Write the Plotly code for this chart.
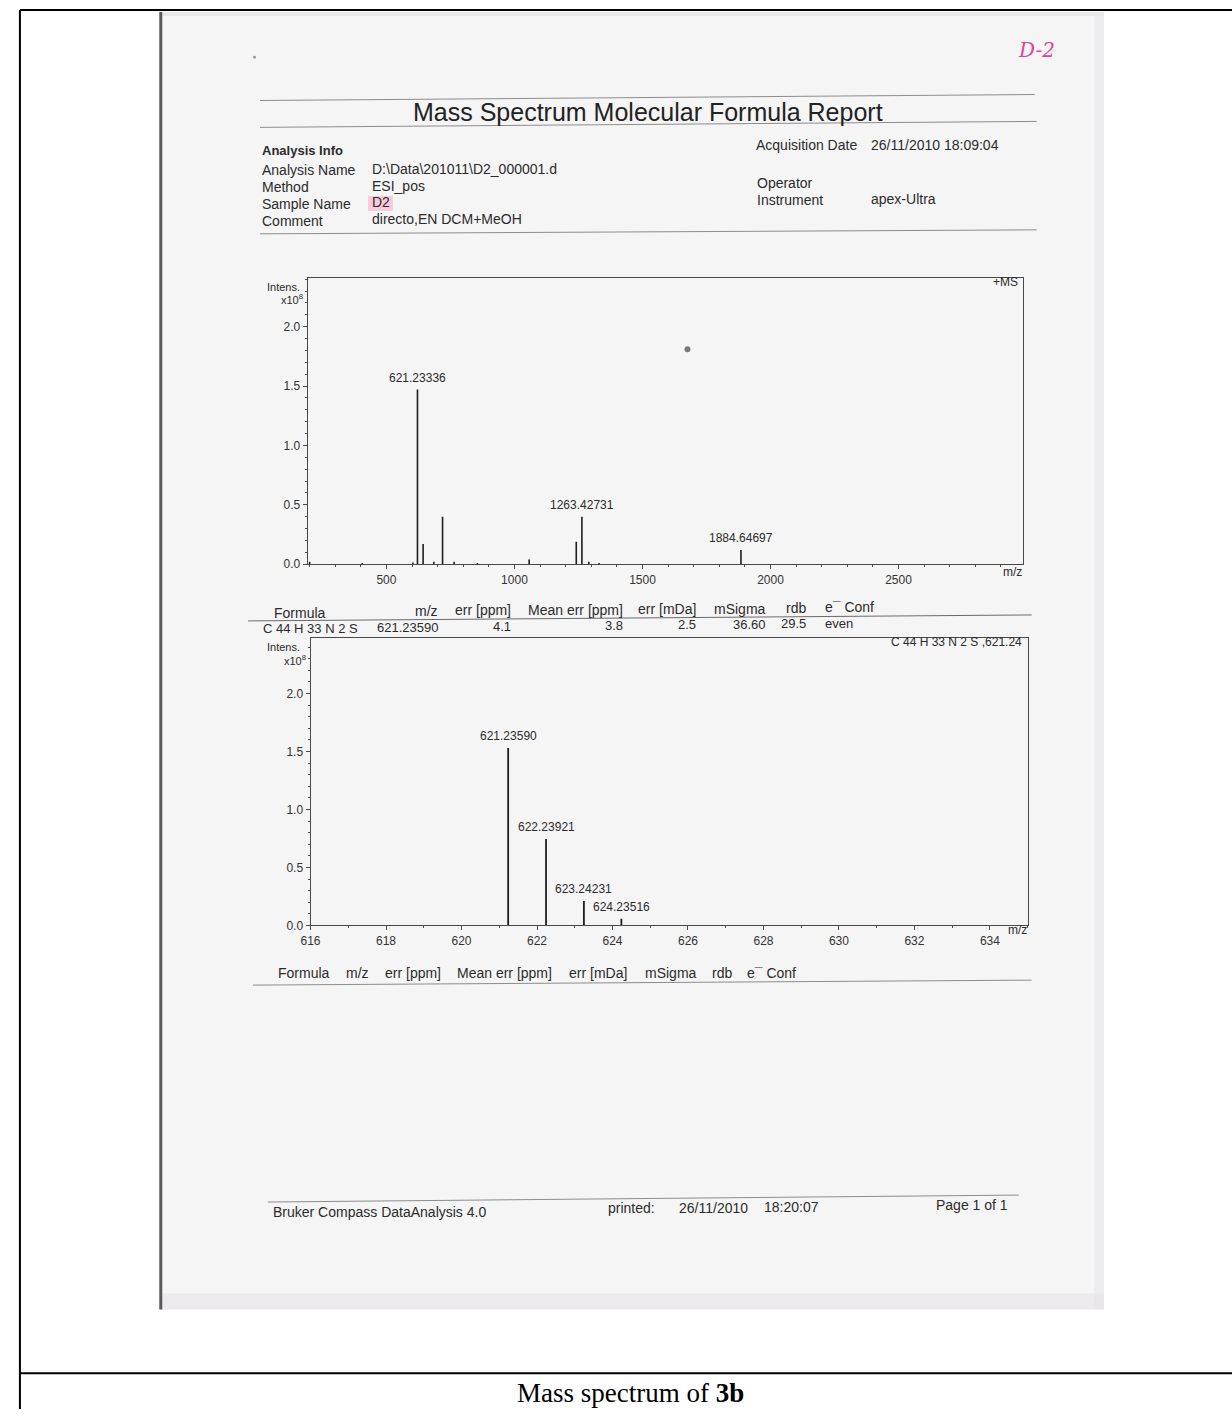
import plotly.graph_objects as go

W, H = 1232, 1416
SANS = "Liberation Sans, Arial, sans-serif"
SERIF = "Liberation Serif, Times New Roman, serif"
INK = "#2b2b2b"

# Survey spectrum (+MS); intensities in units of 1e8
survey_mz = [200.1, 405.3, 603.2, 621.23336, 643.2, 685.3, 719.2, 764.3,
             855.2, 1057.4, 1241.4, 1263.42731, 1290.5, 1330.4, 1884.64697]
survey_int = [0.02, 0.01, 0.015, 1.47, 0.17, 0.02, 0.40, 0.02,
              0.01, 0.04, 0.19, 0.40, 0.02, 0.01, 0.12]
survey_label_mz = [621.23336, 1263.42731, 1884.64697]
survey_label_int = [1.47, 0.40, 0.12]
survey_label_txt = ["621.23336", "1263.42731", "1884.64697"]

# Simulated isotope pattern for C44H33N2S
iso_mz = [621.23590, 622.23921, 623.24231, 624.23516]
iso_int = [1.53, 0.745, 0.21, 0.058]
iso_label_txt = ["621.23590", "622.23921", "623.24231", "624.23516"]

# Formula result table
table_cols = ["Formula", "m/z", "err [ppm]", "Mean err [ppm]", "err [mDa]", "mSigma", "rdb", "e\u00af Conf"]
table_row = ["C 44 H 33 N 2 S", "621.23590", "4.1", "3.8", "2.5", "36.60", "29.5", "even"]


def px(x):
    return x / W


def py(y):
    return 1 - y / H


def sticks(xs, ys):
    xx, yy = [], []
    for a, b in zip(xs, ys):
        xx += [a, a, None]
        yy += [0, b, None]
    return xx, yy


fig = go.Figure()

sx, sy = sticks(survey_mz, survey_int)
fig.add_trace(go.Scatter(x=sx, y=sy, mode="lines", line=dict(color="#1e1e1e", width=1.6),
                         hoverinfo="skip", showlegend=False, xaxis="x", yaxis="y"))
ix, iy = sticks(iso_mz, iso_int)
fig.add_trace(go.Scatter(x=ix, y=iy, mode="lines", line=dict(color="#1e1e1e", width=1.8),
                         hoverinfo="skip", showlegend=False, xaxis="x2", yaxis="y2"))

axis_common = dict(showline=True, mirror=True, linecolor="#4a4a4a", linewidth=1,
                   showgrid=False, zeroline=False, ticks="outside", ticklen=4,
                   tickcolor="#4a4a4a", tickfont=dict(family=SANS, size=12, color="#333"))

layout_axes = dict(
    xaxis=dict(domain=[px(300), px(1021)], range=[192, 2985], anchor="y",
               tickvals=[500, 1000, 1500, 2000, 2500],
               minor=dict(dtick=100, tick0=0, ticklen=2, ticks="outside", tickcolor="#4a4a4a"),
               **axis_common),
    yaxis=dict(domain=[py(567), py(279)], range=[0, 2.413], anchor="x",
               tickvals=[0, 0.5, 1.0, 1.5, 2.0], ticktext=["0.0", "0.5", "1.0", "1.5", "2.0"],
               minor=dict(dtick=0.1, tick0=0, ticklen=2, ticks="outside", tickcolor="#4a4a4a"),
               **axis_common),
    xaxis2=dict(domain=[px(303), px(1026)], range=[616, 635], anchor="y2",
                tickvals=[616, 618, 620, 622, 624, 626, 628, 630, 632, 634],
                minor=dict(dtick=1, tick0=616, ticklen=2, ticks="outside", tickcolor="#4a4a4a"),
                **axis_common),
    yaxis2=dict(domain=[py(930), py(641)], range=[0, 2.48], anchor="x2",
                tickvals=[0, 0.5, 1.0, 1.5, 2.0], ticktext=["0.0", "0.5", "1.0", "1.5", "2.0"],
                minor=dict(dtick=0.1, tick0=0, ticklen=2, ticks="outside", tickcolor="#4a4a4a"),
                **axis_common),
)

shapes = []
# scanned report page
shapes.append(dict(type="rect", xref="paper", yref="paper", x0=px(151), x1=px(1103),
                   y0=py(1316), y1=py(12), fillcolor="#f5f5f5", line=dict(width=0), layer="below"))
shapes.append(dict(type="rect", xref="paper", yref="paper", x0=px(1093), x1=px(1103),
                   y0=py(1316), y1=py(12), fillcolor="#ededf0", line=dict(width=0), layer="below"))
shapes.append(dict(type="rect", xref="paper", yref="paper", x0=px(151), x1=px(1103),
                   y0=py(1316), y1=py(1300), fillcolor="rgba(232,222,230,0.55)", line=dict(width=0), layer="below"))
shapes.append(dict(type="rect", xref="paper", yref="paper", x0=px(151), x1=px(1103),
                   y0=py(16), y1=py(12), fillcolor="#e8e8ea", line=dict(width=0), layer="below"))
shapes.append(dict(type="line", xref="paper", yref="paper", x0=px(152), x1=px(152),
                   y0=py(1316), y1=py(12), line=dict(color="#5a5a5a", width=3), layer="below"))
# highlight on the sample name
shapes.append(dict(type="rect", xref="paper", yref="paper", x0=px(361), x1=px(386),
                   y0=py(212), y1=py(197), fillcolor="rgba(255,150,190,0.45)", line=dict(width=0), layer="below"))


def rule(x0, y0, x1, y1, color="#8c8c8c", w=1):
    shapes.append(dict(type="line", xref="paper", yref="paper", x0=px(x0), y0=py(y0),
                       x1=px(x1), y1=py(y1), line=dict(color=color, width=w)))


rule(252, 101, 1033, 95)
rule(252, 128, 1035, 122)
rule(252, 235, 1035, 231)
rule(240, 624, 1030, 618, color="#6a6a6a")
rule(245, 990, 1030, 985)
rule(260, 1208, 1017, 1201)
# document table frame
rule(10, 10, 1232, 10, color="#000", w=2)
rule(10, 10, 10, 1416, color="#000", w=2)
rule(10, 1380, 1232, 1380, color="#000", w=2)
# specks
shapes.append(dict(type="circle", xref="paper", yref="paper", x0=px(680), x1=px(686),
                   y0=py(354), y1=py(348), fillcolor="#7a7a72", line=dict(width=0)))
shapes.append(dict(type="circle", xref="paper", yref="paper", x0=px(245), x1=px(248),
                   y0=py(59), y1=py(56), fillcolor="#9a9a9a", line=dict(width=0)))

ann = []


def txt(x, y, s, size=14, anchor="left", color=INK, family=SANS):
    ann.append(dict(x=px(x), y=py(y), xref="paper", yref="paper", text=s, showarrow=False,
                    xanchor=anchor, yanchor="middle", font=dict(size=size, color=color, family=family)))


txt(1035, 50, "<i>D-2</i>", size=20, anchor="center", color="#e0439c", family="DejaVu Serif, serif")
txt(643, 113, "Mass Spectrum Molecular Formula Report", size=25, anchor="center", color="#222")
txt(252, 151, "<b>Analysis Info</b>", size=13)
for lab, val, yy in [("Analysis Name", "D:\\Data\\201011\\D2_000001.d", 171),
                     ("Method", "ESI_pos", 188),
                     ("Sample Name", "D2", 205),
                     ("Comment", "directo,EN DCM+MeOH", 222)]:
    txt(252, yy, lab, size=14)
    txt(363, yy - 1.5, val, size=14)
txt(750, 146, "Acquisition Date", size=14)
txt(866, 146, "26/11/2010 18:09:04", size=14)
txt(751, 184, "Operator", size=14)
txt(751, 201, "Instrument", size=14)
txt(866, 200, "apex-Ultra", size=14)

# survey spectrum decorations
txt(294, 288, "Intens.", size=11, anchor="right")
txt(297, 300, "x10<sup>8</sup>", size=11, anchor="right")
txt(1018, 283, "+MS", size=12, anchor="right")
txt(1011, 575, "m/z", size=12, anchor="center")

# formula table
col_right = [None, 434, 507, 620, 694, 764, 805, None]
col_left = [264, None, None, None, None, None, None, 820]
hdr_y = [616, 614, 613, 613, 612, 612, 611, 610]
row_y = [632, 631, 630, 629, 628, 628, 627, 627]
for i, (h, r) in enumerate(zip(table_cols, table_row)):
    if col_left[i] is not None:
        txt(col_left[i], hdr_y[i], h, size=14)
        txt(col_left[i] - (11 if i == 0 else 0), row_y[i], r, size=13)
    else:
        txt(col_right[i], hdr_y[i], h, size=14, anchor="right")
        txt(col_right[i], row_y[i], r, size=13, anchor="right")

# isotope pattern decorations
txt(294, 650, "Intens.", size=11, anchor="right")
txt(300, 663, "x10<sup>8</sup>", size=11, anchor="right")
txt(1022, 645, "C 44 H 33 N 2 S ,621.24", size=12, anchor="right")
txt(1016, 935, "m/z", size=12, anchor="center")

# empty result table below the isotope pattern
bottom_hdr_x = [268, 337, 376, 449, 562, 638, 706, 741]
for h, xx in zip(table_cols, bottom_hdr_x):
    txt(xx, 978, h, size=14)

# footer
txt(263, 1218, "Bruker Compass DataAnalysis 4.0", size=14)
txt(601, 1214, "printed:", size=14)
txt(672, 1214, "26/11/2010", size=14)
txt(758, 1213, "18:20:07", size=14)
txt(932, 1211, "Page 1 of 1", size=14)

# caption
txt(626, 1400, "Mass spectrum of <b>3b</b>", size=27, anchor="center", color="#000", family=SERIF)

# peak labels
for m, v, t in zip(survey_label_mz, survey_label_int, survey_label_txt):
    ann.append(dict(x=m, y=v, xref="x", yref="y", text=t, showarrow=False, xanchor="center",
                    yanchor="bottom", yshift=3, font=dict(size=12, color=INK, family=SANS)))
for m, v, t in zip(iso_mz, iso_int, iso_label_txt):
    ann.append(dict(x=m, y=v, xref="x2", yref="y2", text=t, showarrow=False, xanchor="center",
                    yanchor="bottom", yshift=3, font=dict(size=12, color=INK, family=SANS)))

fig.update_layout(
    width=W, height=H, margin=dict(l=0, r=0, t=0, b=0),
    paper_bgcolor="#ffffff", plot_bgcolor="rgba(0,0,0,0)",
    showlegend=False, shapes=shapes, annotations=ann,
    font=dict(family=SANS, color=INK),
    **layout_axes,
)

fig.write_html("out.html",
               post_script="document.body.style.margin='0';document.body.style.padding='0';"
                           "document.body.style.overflow='hidden';")
